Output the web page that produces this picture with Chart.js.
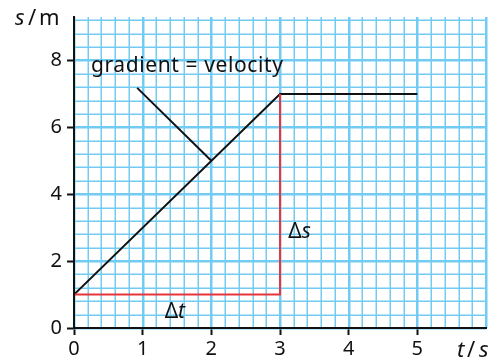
<!DOCTYPE html>
<html>
<head>
<meta charset="utf-8">
<script src="https://cdn.jsdelivr.net/npm/chart.js@4/dist/chart.umd.min.js"></script>
<style>
  html, body { margin: 0; padding: 0; background: #fff; }
  #wrap { width: 494px; height: 361px; }
</style>
</head>
<body>
<div id="wrap"><canvas id="grafico"></canvas></div>
<script>
// dados
const tempo = [0, 3, 5];          // t / s
const distancia = [1, 7, 7];      // s / m
const deltaT = [[0, 1], [3, 1], [3, 7]];        // triângulo Δt / Δs
const ponteiro = [[0.92, 7.18], [2, 5]];        // linha do rótulo "gradient"
const xTicks = [0, 1, 2, 3, 4, 5];
const yTicks = [0, 2, 4, 6, 8];

const FONTE = "'Noto Sans', sans-serif";
const AZUL = "#72cbf2";

const pts = (xs, ys) => xs.map((x, i) => ({ x: x, y: ys[i] }));
const par = (arr) => arr.map(p => ({ x: p[0], y: p[1] }));

// papel milimetrado (grade azul)
const grade = {
  id: "grade",
  beforeDatasetsDraw(chart) {
    const c = chart.ctx, a = chart.chartArea;
    const sx = chart.scales.x, sy = chart.scales.y;
    c.save();
    c.strokeStyle = AZUL;
    for (let k = 0; k <= 30; k++) {
      const grosso = k % 5 === 0;
      const p = Math.round(sx.getPixelForValue(k * 0.2)) + 0.25;
      c.lineWidth = grosso ? 2.5 : 1.5;
      c.beginPath();
      c.moveTo(p, a.top);
      c.lineTo(p, a.bottom);
      c.stroke();
    }
    for (let k = 0; k <= 23; k++) {
      const grosso = k % 5 === 0;
      const p = Math.round(sy.getPixelForValue(k * 0.4)) + 0.25;
      c.lineWidth = grosso ? 2.5 : 1.5;
      c.beginPath();
      c.moveTo(a.left, p);
      c.lineTo(a.right, p);
      c.stroke();
    }
    c.restore();
  }
};

// textos extras (rótulos e títulos dos eixos)
const textos = {
  id: "textos",
  afterDraw(chart) {
    const c = chart.ctx;
    const sx = chart.scales.x, sy = chart.scales.y;
    c.save();
    c.fillStyle = "#111";
    c.textBaseline = "middle";
    c.textAlign = "left";

    c.font = "21px " + FONTE;
    c.letterSpacing = "0.6px";
    c.fillText("gradient = velocity", 91, 66);
    c.letterSpacing = "0px";

    // Δt
    const xt = sx.getPixelForValue(1.32), yt = sy.getPixelForValue(0.47);
    c.font = "21px " + FONTE;
    c.fillText("Δ", xt, yt);
    let w = c.measureText("Δ").width;
    c.font = "italic 21px " + FONTE;
    c.fillText("t", xt + w, yt);

    // Δs
    const xs = sx.getPixelForValue(3.12), ys = sy.getPixelForValue(2.86);
    c.font = "21px " + FONTE;
    c.fillText("Δ", xs, ys);
    w = c.measureText("Δ").width;
    c.font = "italic 21px " + FONTE;
    c.fillText("s", xs + w, ys);

    // s / m
    c.font = "italic 22px " + FONTE;
    c.fillText("s", 15, 19);
    c.font = "22px " + FONTE;
    c.fillText("/", 28, 19);
    c.fillText("m", 39, 19);

    // t / s
    c.font = "italic 22px " + FONTE;
    c.fillText("t", 457, 351);
    c.font = "22px " + FONTE;
    c.fillText("/", 467, 351);
    c.font = "italic 22px " + FONTE;
    c.fillText("s", 479, 351);
    c.restore();
  }
};

new Chart(document.getElementById("grafico"), {
  type: "scatter",
  data: {
    datasets: [
      {
        data: par(deltaT),
        showLine: true,
        borderColor: "#e8343a",
        borderWidth: 2,
        pointRadius: 0,
        tension: 0
      },
      {
        data: pts(tempo, distancia),
        showLine: true,
        borderColor: "#111",
        borderWidth: 2,
        pointRadius: 0,
        tension: 0
      },
      {
        data: par(ponteiro),
        showLine: true,
        borderColor: "#111",
        borderWidth: 2,
        pointRadius: 0,
        tension: 0
      }
    ]
  },
  options: {
    responsive: true,
    maintainAspectRatio: false,
    animation: false,
    layout: { padding: { top: 10, right: 8, left: 0, bottom: 0 } },
    plugins: { legend: { display: false }, tooltip: { enabled: false } },
    scales: {
      x: {
        type: "linear",
        min: 0,
        max: 6,
        afterFit(s) { s.height = 33; },
        afterBuildTicks(s) { s.ticks = xTicks.map(v => ({ value: v })); },
        border: { color: "#111", width: 2, z: 1 },
        grid: {
          color: "rgba(0,0,0,0)",
          tickColor: "#111",
          tickWidth: 2,
          tickLength: 7
        },
        ticks: {
          autoSkip: false,
          maxRotation: 0,
          padding: 2,
          color: "#111",
          font: { family: FONTE, size: 20 }
        }
      },
      y: {
        type: "linear",
        min: 0,
        max: 9.3,
        afterFit(s) { s.width = 74; },
        afterBuildTicks(s) { s.ticks = yTicks.map(v => ({ value: v })); },
        border: { color: "#111", width: 2, z: 1 },
        grid: {
          color: "rgba(0,0,0,0)",
          tickColor: "#111",
          tickWidth: 2,
          tickLength: 7
        },
        ticks: {
          autoSkip: false,
          padding: 5,
          color: "#111",
          font: { family: FONTE, size: 20 }
        }
      }
    }
  },
  plugins: [grade, textos]
});
</script>
</body>
</html>
